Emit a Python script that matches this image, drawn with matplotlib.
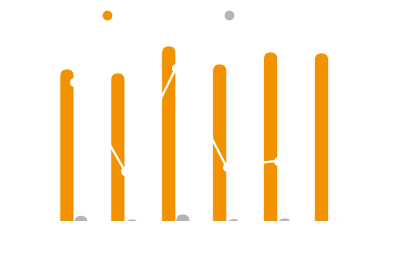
import numpy as np
import matplotlib.pyplot as plt
from matplotlib.patches import FancyBboxPatch
from matplotlib.lines import Line2D

# --- values (no axis labels visible, units are arbitrary) ---
categories = ["Jan", "Feb", "Mar", "Apr", "May", "Jun"]
series_a = [152, 148, 175, 157, 169, 168]
series_b = [5.5, 2.0, 7.0, 2.3, 3.0, 0.6]
series_line = [138.7, 50.0, 152.7, 53.7, 60.3, np.nan]
series_names = ["Series A", "Series B", "Series C"]

ORANGE = "#F39200"
GREY = "#B5B5B5"

W, H, DPI = 400, 276, 100


def round_tops(ax, bars, color):
    """Swap plain bars for bars with a fully rounded top, flat at the baseline."""
    x0, x1 = ax.get_xlim()
    y0, y1 = ax.get_ylim()
    bbox = ax.get_window_extent()
    px_per_x = bbox.width / (x1 - x0)
    y_per_px = (y1 - y0) / bbox.height
    for b in bars:
        x, w, h = b.get_x(), b.get_width(), b.get_height()
        rx = w / 2
        ry = rx * px_per_x * y_per_px
        start = min(-ry, h - 2 * ry)
        p = FancyBboxPatch((x, start), w, h - start,
                           boxstyle=f"round,pad=0,rounding_size={rx}",
                           mutation_aspect=ry / rx,
                           fc=color, ec="white", lw=0.5, zorder=2)
        ax.add_patch(p)
        b.remove()


def main():
    fig = plt.figure(figsize=(W / DPI, H / DPI), dpi=DPI)
    ax = fig.add_axes([48.5 / W, 55 / H, 305.5 / W, 181 / H])

    x = np.arange(len(categories))
    bw = 0.275
    ax.set_xlim(-0.5, len(categories) - 0.5)
    ax.set_ylim(0, 181)

    bars_a = ax.bar(x - bw / 2, series_a, bw, color=ORANGE)
    bars_b = ax.bar(x + bw / 2, series_b, bw, color=GREY)
    round_tops(ax, bars_a, ORANGE)
    round_tops(ax, bars_b, GREY)

    ax.plot(x, series_line, color="white", lw=1.6, marker="o", ms=5.5,
            mec="white", mfc="white", zorder=3, clip_on=False)

    for s in ax.spines.values():
        s.set_visible(False)
    ax.set_xticks([])
    ax.set_yticks([])

    handles = [
        Line2D([], [], ls="none", marker="o", ms=6, color=ORANGE),
        Line2D([], [], ls="none", marker="o", ms=6, color=GREY),
    ]
    leg = fig.legend(handles, series_names[:2], loc="center left",
                     bbox_to_anchor=(101 / W, 1 - 16 / H), ncol=2, frameon=False,
                     fontsize=8, handlelength=1, handletextpad=0.4,
                     columnspacing=5.5, borderpad=0, borderaxespad=0)
    for t in leg.get_texts():
        t.set_color("white")

    fig.savefig("out.png", dpi=DPI)


if __name__ == "__main__":
    main()
